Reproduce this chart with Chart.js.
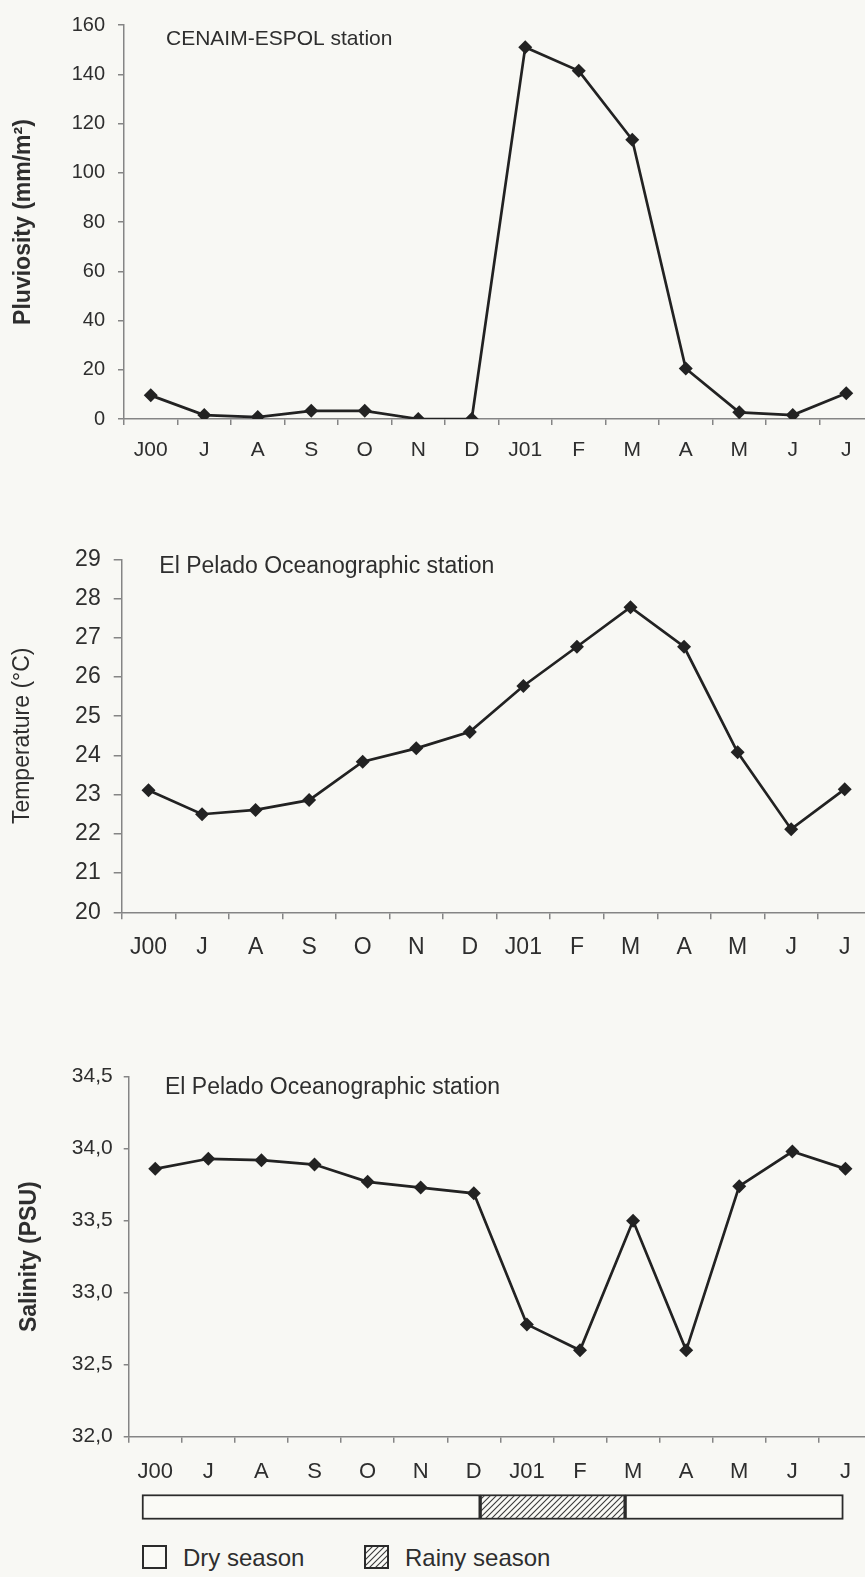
<!DOCTYPE html>
<html>
<head>
<meta charset="utf-8">
<script src="https://cdn.jsdelivr.net/npm/chart.js@4.4.1/dist/chart.umd.min.js"></script>
<style>
    html, body { margin: 0; padding: 0; overflow: hidden; }
    body { width: 865px; height: 1577px; background: #f8f8f4; position: relative; font-family: "Liberation Sans", Arial, sans-serif; color: #2e2e2e; }
    canvas { position: absolute; left: 0; }
    .legend-box { position: absolute; width: 25px; height: 24px; box-sizing: border-box; border: 2px solid #2b2b2b; background: #fafaf6; }
    .legend-text { position: absolute; font-size: 24px; line-height: 24px; }
</style>
</head>
<body>
<canvas id="pluvioChart" width="880" height="475" style="top:0px"></canvas>
<canvas id="tempChart" width="880" height="470" style="top:500px"></canvas>
<canvas id="salinityChart" width="880" height="460" style="top:1030px"></canvas>
<canvas id="seasonChart" width="880" height="50" style="top:1482px"></canvas>

<div class="legend-box" style="left:142px; top:1545px"></div>
<div class="legend-text" style="left:183px; top:1546px">Dry season</div>
<div class="legend-box" id="rainyBox" style="left:364px; top:1545px"></div>
<div class="legend-text" style="left:405px; top:1546px">Rainy season</div>

<script>
const months = ["J00", "J", "A", "S", "O", "N", "D", "J01", "F", "M", "A", "M", "J", "J"];

const pluviosity = [9.6, 1.6, 0.8, 3.3, 3.3, 0, 0, 151, 141.4, 113.4, 20.5, 2.7, 1.6, 10.5];
const temperature = [23.11, 22.5, 22.61, 22.86, 23.84, 24.18, 24.6, 25.77, 26.77, 27.78, 26.77, 24.08, 22.12, 23.14];
const salinity = [33.86, 33.93, 33.92, 33.89, 33.77, 33.73, 33.69, 32.78, 32.6, 33.5, 32.6, 33.74, 33.98, 33.86];

const pluvioTicks = [0, 20, 40, 60, 80, 100, 120, 140, 160];
const tempTicks = [20, 21, 22, 23, 24, 25, 26, 27, 28, 29];
const salinityTicks = [32, 32.5, 33, 33.5, 34, 34.5];

// season spans in month-index units (J00 = 0)
const seasonNames = ["Dry season", "Rainy season", "Dry season"];
const seasonSpans = [[-0.25, 6.12], [6.12, 8.85], [8.85, 12.96]];

const INK = "#222222";
const AXIS = "#858585";
const TEXT = "#2e2e2e";
const PAPER = "#fafaf6";
const FONT = "'Liberation Sans', Arial, sans-serif";

Chart.defaults.font.family = FONT;
Chart.defaults.color = TEXT;

// station name written inside the plot area, top left
const stationLabel = {
    id: "stationLabel",
    afterDraw(chart, args, opts) {
        const { ctx, chartArea } = chart;
        ctx.save();
        ctx.font = `${opts.size}px ${FONT}`;
        ctx.fillStyle = TEXT;
        ctx.textBaseline = "alphabetic";
        ctx.fillText(opts.text, chartArea.left + opts.dx, chartArea.top + opts.dy);
        ctx.restore();
    },
};

function hatchPattern() {
    const c = document.createElement("canvas");
    c.width = 6;
    c.height = 6;
    const g = c.getContext("2d");
    g.fillStyle = PAPER;
    g.fillRect(0, 0, 6, 6);
    g.strokeStyle = "#3a3a3a";
    g.lineWidth = 1.1;
    g.beginPath();
    g.moveTo(0, 6); g.lineTo(6, 0);
    g.moveTo(-1, 1); g.lineTo(1, -1);
    g.moveTo(5, 7); g.lineTo(7, 5);
    g.stroke();
    return c;
}

function lineChart(id, o) {
    return new Chart(document.getElementById(id), {
        type: "line",
        data: {
            labels: months,
            datasets: [{
                data: o.values,
                borderColor: INK,
                borderWidth: 2.7,
                tension: 0,
                pointStyle: "rectRot",
                pointRadius: 7,
                pointBackgroundColor: INK,
                pointBorderWidth: 0,
            }],
        },
        options: {
            responsive: false,
            animation: false,
            layout: { padding: { top: o.top, right: o.right, left: 0, bottom: 0 } },
            plugins: {
                legend: { display: false },
                tooltip: { enabled: false },
                stationLabel: { text: o.station, dx: o.labelX, dy: o.labelY, size: o.labelSize },
            },
            scales: {
                x: {
                    type: "category",
                    offset: true,
                    grid: { offset: true, drawOnChartArea: false, color: AXIS, lineWidth: 1.5, tickLength: o.xTick },
                    border: { color: AXIS, width: 1.5 },
                    ticks: { padding: o.xPad, font: { size: o.xFont }, color: TEXT, autoSkip: false, maxRotation: 0 },
                    afterFit: s => { s.height = o.xHeight; },
                },
                y: {
                    min: o.ticks[0],
                    max: o.ticks[o.ticks.length - 1],
                    grid: { drawOnChartArea: false, color: AXIS, lineWidth: 1.5, tickLength: o.yTick },
                    border: { color: AXIS, width: 1.5 },
                    ticks: { padding: o.yPad, font: { size: o.yFont }, color: TEXT, callback: o.format || (v => v) },
                    title: {
                        display: true,
                        text: o.title,
                        color: TEXT,
                        font: { size: 23, weight: o.titleWeight },
                        padding: { top: o.titlePad, bottom: 0 },
                    },
                    afterBuildTicks: s => { s.ticks = o.ticks.map(v => ({ value: v })); },
                    afterFit: s => { s.width = o.left; },
                },
            },
        },
        plugins: [stationLabel],
    });
}

lineChart("pluvioChart", {
    values: pluviosity, ticks: pluvioTicks,
    title: "Pluviosity (mm/m²)", titleWeight: "bold", titlePad: 10.2,
    station: "CENAIM-ESPOL station", labelX: 42, labelY: 19.7, labelSize: 21,
    top: 18.3, right: 6, left: 124, xHeight: 56,
    xTick: 6, xPad: 12.4, xFont: 21, yTick: 6, yPad: 13, yFont: 20,
});

lineChart("tempChart", {
    values: temperature, ticks: tempTicks,
    title: "Temperature (°C)", titleWeight: "normal", titlePad: 8.7,
    station: "El Pelado Oceanographic station", labelX: 37.6, labelY: 13.4, labelSize: 23,
    top: 59.3, right: 8.5, left: 121.7, xHeight: 57.7,
    xTick: 7, xPad: 14.9, xFont: 23, yTick: 8, yPad: 13, yFont: 23,
});

lineChart("salinityChart", {
    values: salinity, ticks: salinityTicks,
    title: "Salinity (PSU)", titleWeight: "bold", titlePad: 16.2,
    station: "El Pelado Oceanographic station", labelX: 36.3, labelY: 17.6, labelSize: 23,
    top: 46.7, right: 8, left: 128.7, xHeight: 53.3,
    xTick: 6, xPad: 16.1, xFont: 22, yTick: 5, yPad: 11, yFont: 21,
    format: v => v.toFixed(1).replace(".", ","),
});

const hatch = hatchPattern();
const ctxS = document.getElementById("seasonChart").getContext("2d");
const hatchFill = ctxS.createPattern(hatch, "repeat");

new Chart(ctxS, {
    type: "bar",
    data: {
        labels: ["season"],
        datasets: seasonSpans.map((span, i) => ({
            label: seasonNames[i],
            data: [span],
            backgroundColor: i === 1 ? hatchFill : PAPER,
            borderColor: "#2b2b2b",
            borderWidth: 2,
            borderSkipped: false,
            barThickness: 25,
            grouped: false,
        })),
    },
    options: {
        indexAxis: "y",
        responsive: false,
        animation: false,
        layout: { padding: { left: 128.7, right: 8, top: 0, bottom: 0 } },
        plugins: { legend: { display: false }, tooltip: { enabled: false } },
        scales: {
            x: { type: "linear", min: -0.5, max: 13.5, display: false },
            y: { display: false },
        },
    },
});

document.getElementById("rainyBox").style.background = `url(${hatch.toDataURL()})`;
</script>
</body>
</html>
